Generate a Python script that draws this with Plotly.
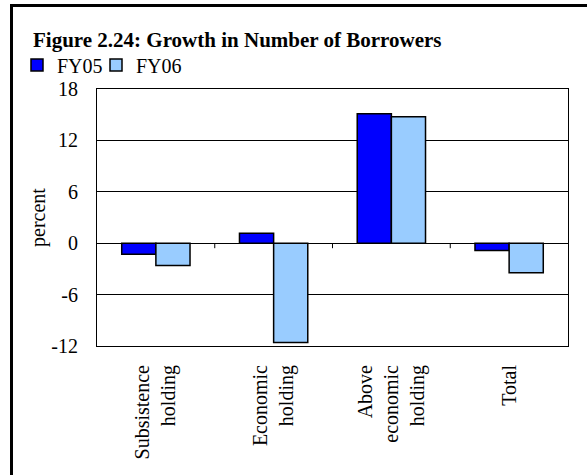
import plotly.graph_objects as go

categories = ["Subsistence<br>holding", "Economic<br>holding", "Above<br>economic<br>holding", "Total"]
fy05 = [-1.3, 1.15, 15.1, -0.85]
fy06 = [-2.6, -11.6, 14.75, -3.45]
y_ticks = [-12, -6, 0, 6, 12, 18]
y_tick_labels = [str(v) for v in y_ticks]

FONT = "Liberation Serif, Times New Roman, serif"

fig = go.Figure()
fig.add_trace(go.Bar(x=categories, y=fy05, name="FY05", legend="legend",
                     marker=dict(color="#0000FF", line=dict(color="black", width=1.5))))
fig.add_trace(go.Bar(x=categories, y=fy06, name="FY06", legend="legend2",
                     marker=dict(color="#99CCFF", line=dict(color="black", width=1.5))))

L, R, T, B = 97, 19, 89, 129
W, H = 587, 475
pw, ph = W - L - R, H - T - B

def px_x(p):
    return (p - L) / pw

def px_y(p):
    return (H - B - p) / ph

legend_style = dict(orientation="h", y=px_y(65), xanchor="left", yanchor="middle",
                    font=dict(family=FONT, size=20), itemwidth=30, bgcolor="rgba(0,0,0,0)")

fig.update_layout(
    width=W, height=H,
    margin=dict(l=L, r=R, t=T, b=B, autoexpand=False),
    paper_bgcolor="white", plot_bgcolor="white",
    font=dict(family=FONT, size=20, color="black"),
    barmode="group", bargap=0.42, bargroupgap=0,
    showlegend=True,
    legend=dict(x=px_x(17), **legend_style),
    legend2=dict(x=px_x(96), **legend_style),
    xaxis=dict(type="category", tickangle=-90, showgrid=False, ticks="",
               showline=True, linecolor="black", linewidth=1, mirror=True,
               ticklabelstandoff=10, tickfont=dict(family=FONT, size=20)),
    yaxis=dict(range=[-12, 18], tickvals=y_ticks, ticktext=y_tick_labels,
               showgrid=True, gridcolor="black", gridwidth=1,
               zeroline=True, zerolinecolor="black", zerolinewidth=1,
               showline=True, linecolor="black", linewidth=1, mirror=True,
               ticks="", ticklabelstandoff=14, tickfont=dict(family=FONT, size=20),
               title=dict(text="percent", font=dict(family=FONT, size=20), standoff=0)),
)

# category boundary ticks on the zero line
for xb in [0.5, 1.5, 2.5]:
    fig.add_shape(type="line", xref="x", yref="y", x0=xb, x1=xb, ysizemode="pixel",
                  yanchor=0, y0=0, y1=-5, line=dict(color="black", width=1))

# outer frame (left and top edges; the rest lies outside the picture)
fig.add_shape(type="line", xref="paper", yref="paper",
              x0=px_x(11.5), x1=px_x(W), y0=px_y(5.5), y1=px_y(5.5),
              line=dict(color="black", width=3), layer="above")
fig.add_shape(type="line", xref="paper", yref="paper",
              x0=px_x(11.5), x1=px_x(11.5), y0=px_y(4), y1=px_y(H),
              line=dict(color="black", width=3), layer="above")

fig.add_annotation(text="<b>Figure 2.24: Growth in Number of Borrowers</b>",
                   xref="paper", yref="paper", x=px_x(31), y=px_y(40),
                   xanchor="left", yanchor="middle", showarrow=False,
                   font=dict(family=FONT, size=21, color="black"))

fig.write_html("out.html")
